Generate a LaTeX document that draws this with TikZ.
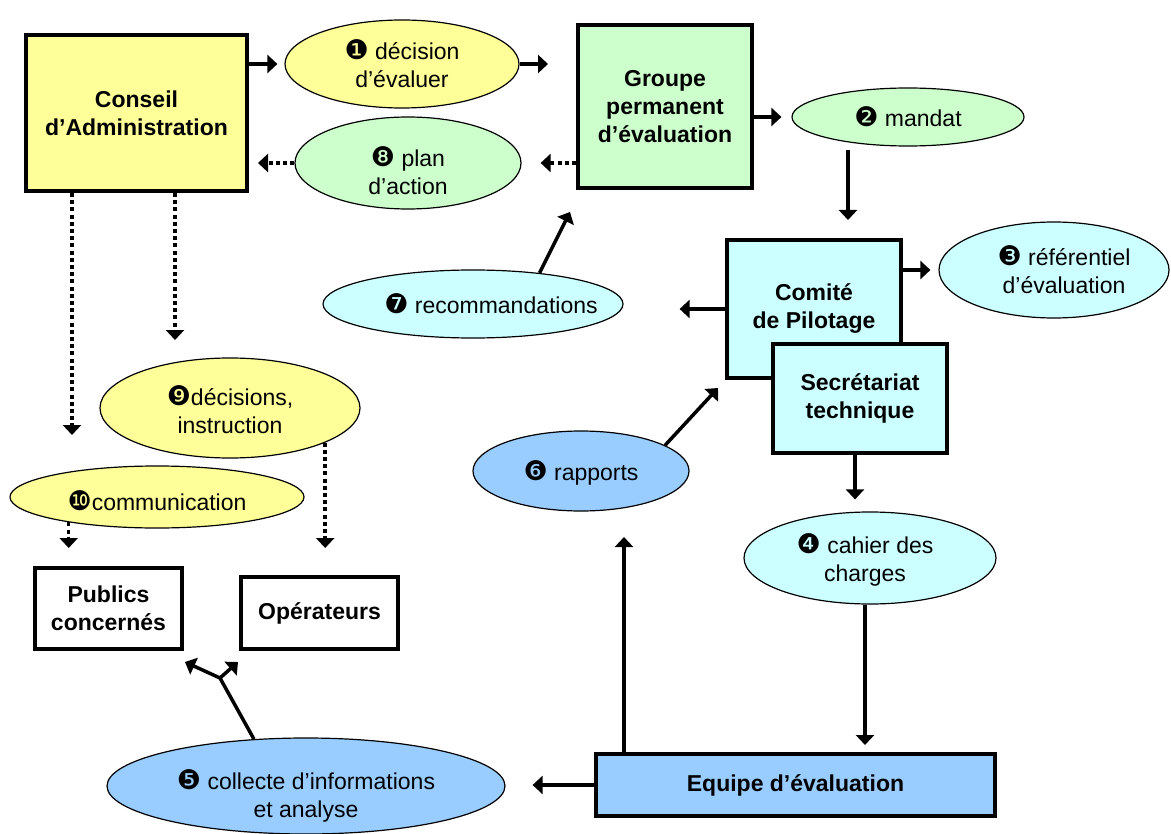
\documentclass[tikz,border=0pt]{standalone}
\usepackage{fontspec}
\setmainfont{Liberation Sans}
\newfontfamily\dingf{DejaVu Sans}
\usetikzlibrary{shapes.geometric,arrows.meta}
\newcommand{\cn}[1]{{\dingf\fontsize{13.5}{12}\selectfont #1}}
\definecolor{yel}{HTML}{FFFF99}
\definecolor{grn}{HTML}{CCFFCC}
\definecolor{cya}{HTML}{CCFFFF}
\definecolor{blu}{HTML}{99CCFF}
\begin{document}
\begin{tikzpicture}[x=0.5pt,y=-0.5pt, font=\fontsize{11.5}{14}\selectfont,
 box/.style={draw, line width=2pt, rectangle, align=center, font=\fontsize{11.5}{14}\selectfont\bfseries, inner sep=0pt},
 ell/.style={draw, line width=0.6pt, ellipse, inner sep=0pt},
 arr/.style={line width=1.75pt, -{Triangle[length=5pt,width=9pt]}},
 dotarr/.style={arr, dash pattern=on 2pt off 1.6pt},
 ]
\useasboundingbox (0,0) rectangle (1171,834);

% boxes
\node[box, fill=yel, minimum width=110.5pt, minimum height=78pt] (ca) at (136.5,113) {Conseil\\d’Administration};
\node[box, fill=grn, minimum width=87pt, minimum height=81.5pt] (gp) at (665,106.5) {Groupe\\permanent\\d’évaluation};
\node[box, fill=cya, minimum width=87pt, minimum height=69pt] (cp) at (814,309) {Comité\\de Pilotage};
\node[box, fill=cya, minimum width=87pt, minimum height=54.5pt] (st) at (860,398.5) {Secrétariat\\technique};
\node[box, fill=white, minimum width=73.5pt, minimum height=40.5pt] (pc) at (108.5,608.5) {Publics\\concernés};
\node[box, fill=white, minimum width=78.5pt, minimum height=36pt] (op) at (319.5,613) {Opérateurs};
\node[box, fill=blu, minimum width=199.5pt, minimum height=31pt] (eq) at (795.5,785) {Equipe d’évaluation};

% ellipses
\node[ell, fill=yel, minimum width=117pt, minimum height=44pt,
  label={[align=center]center:{\cn{❶} décision\\d’évaluer}}] (e1) at (402,64) {};
\node[ell, fill=grn, minimum width=113pt, minimum height=46pt,
  label={[align=center,yshift=-4pt]center:{\cn{❽} plan\\d’action}}] (e8) at (408,163) {};
\node[ell, fill=grn, minimum width=116pt, minimum height=29pt,
  label={[align=center]center:{\cn{❷} mandat}}] (e2) at (908,117) {};
\node[ell, fill=cya, minimum width=115pt, minimum height=48pt,
  label={[align=center,xshift=5pt]center:{\cn{❸} référentiel\\d’évaluation}}] (e3) at (1054,270) {};
\node[ell, fill=cya, minimum width=150pt, minimum height=34pt,
  label={[align=center,xshift=9pt]center:{\cn{❼} recommandations}}] (e7) at (473,304) {};
\node[ell, fill=yel, minimum width=130pt, minimum height=50pt,
  label={[align=center,yshift=-1pt]center:{\cn{❾}décisions,\\instruction}}] (e9) at (230,408) {};
\node[ell, fill=yel, minimum width=147pt, minimum height=31pt,
  label={[align=center,yshift=-2pt]center:{\cn{❿}communication}}] (e10) at (157,497) {};
\node[ell, fill=blu, minimum width=108pt, minimum height=40pt,
  label={[align=center,yshift=-1pt]center:{\cn{❻} rapports}}] (e6) at (581,471) {};
\node[ell, fill=cya, minimum width=126pt, minimum height=46pt,
  label={[align=center,xshift=-2.5pt,yshift=-1pt]center:{\cn{❹} cahier des\\charges}}] (e4) at (870,558) {};
\node[ell, fill=blu, minimum width=199pt, minimum height=48pt,
  label={[align=center,yshift=-5pt]center:{\cn{❺} collecte d’informations\\et analyse}}] (e5) at (306,786) {};

% free ends
\coordinate (a4) at (848,150);
\coordinate (a7) at (570,212);
\coordinate (a6) at (718,388);
\coordinate (a10) at (624,537);
\coordinate (fk) at (220,678);
\coordinate (t1) at (185,662);
\coordinate (t2) at (238,662);
\coordinate (d1) at (72,435);
\coordinate (d2) at (175,340);
\coordinate (d3) at (0,548);
\coordinate (d4) at (0,548);

% solid arrows
\draw[arr, shorten >=3.5pt] (ca.east |- e1.west) -- (e1.west);
\draw[arr, shorten >=14pt] (e1.east) -- (e1.east -| gp.west);
\draw[arr, shorten >=5pt] (gp.east |- e2.west) -- (e2.west);
\draw[arr, shorten >=9pt] (a4) -- (a4 |- cp.north);
\draw[arr, shorten >=4pt] (cp.east |- e3.west) -- (e3.west);
\draw[arr, shorten >=28pt] (cp.west) -- (cp.west -| e7.east);
\draw[arr] (e7.25) -- (a7);
\draw[arr] (e6.17) -- (a6);
\draw[arr, shorten >=6pt] ([xshift=-2.5pt]st.south) -- ([xshift=-2.5pt]st.south |- e4.north);
\draw[arr, shorten >=3.5pt] ([xshift=-2.5pt]e4.south) -- ([xshift=-2.5pt]e4.south |- eq.north);
\draw[arr] (eq.north -| a10) -- (a10);
\draw[arr, shorten >=13.5pt] (eq.west) -- (eq.west -| e5.east);
\draw[line width=1.75pt] (e5.138) -- (fk);
\draw[arr] (fk) -- (t1);
\draw[arr] (fk) -- (t2);

% dotted arrows
\draw[dotarr, shorten >=4.5pt] (e8.west) -- (e8.west -| ca.east);
\draw[dotarr, shorten >=9.5pt] (gp.west |- e8.east) -- (e8.east);
\draw[dotarr] (ca.south -| d1) -- (d1);
\draw[dotarr] (ca.south -| d2) -- (d2);
\draw[dotarr] (e9.-20.6) -- (e9.-20.6 |- d3);
\draw[dotarr] (e10.-164) -- (e10.-164 |- d4);
\end{tikzpicture}
\end{document}
